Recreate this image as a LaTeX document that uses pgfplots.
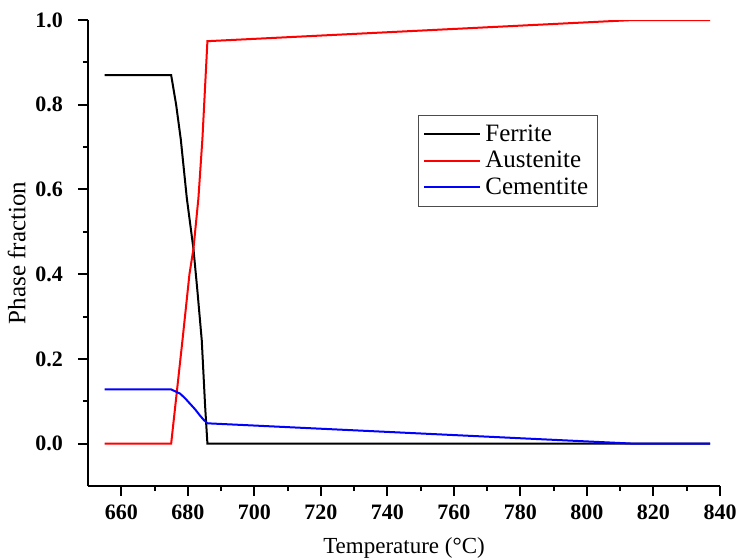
\documentclass[border=0pt]{standalone}
\usepackage{pgfplots}
\pgfplotsset{compat=1.18}
\usepackage{fontspec}
\setmainfont{Liberation Serif}
\begin{document}
\begin{tikzpicture}
\begin{axis}[
  scale only axis,
  width=316pt, height=233pt,
  xmin=650, xmax=840, ymin=-0.1, ymax=1.0,
  axis x line*=bottom, axis y line*=left,
  axis line style={-, line width=1pt},
  xtick={660,680,...,840},
  minor x tick num=1,
  ytick={0,0.2,...,1.0},
  minor y tick num=1,
  tick align=outside,
  major tick length=5pt, minor tick length=2.5pt,
  every tick/.style={black, line width=1pt},
  tick style={line width=1pt, black},
  /pgf/number format/assume math mode=true,
  ticklabel style={font=\fontsize{11}{12}\selectfont\bfseries},
  yticklabel style={xshift=-4pt, /pgf/number format/.cd, fixed, fixed zerofill, precision=1},
  xticklabel style={yshift=-1pt, /pgf/number format/.cd, set thousands separator={}},
  xlabel={Temperature (°C)},
  ylabel={Phase fraction},
  xlabel style={font=\fontsize{11.5}{13}\selectfont, yshift=-2pt},
  ylabel style={font=\fontsize{12.5}{14}\selectfont, yshift=-2pt},
  legend style={at={(0.522,0.796)}, anchor=north west, draw=black!70, line width=0.5pt,
    font=\fontsize{12.5}{13}\selectfont, row sep=-0.5pt, inner sep=2.5pt},
  legend cell align=left,
  legend image code/.code={\draw[#1, line width=1pt] (0pt,0pt) -- (28pt,0pt);},
]
\addplot[black, line width=1pt] coordinates {
 (655,0.87) (675,0.87) (676.5,0.80) (677.9,0.718) (679.7,0.58) (681.7,0.46)
 (682.9,0.36) (684.2,0.244) (685.2,0.09) (685.9,0) (837,0)};
\addlegendentry{Ferrite}
\addplot[red, line width=1pt] coordinates {
 (655,0) (675,0) (676.2,0.086) (678.4,0.244) (680.5,0.40) (681.7,0.46) (683.2,0.58) (684.4,0.72) (685.9,0.95)
 (814,1.0) (837,1.0)};
\addlegendentry{Austenite}
\addplot[blue, line width=1pt] coordinates {
 (655,0.128) (675,0.128) (677.7,0.118) (679.2,0.107) (680.7,0.094) (682.2,0.081) (683.7,0.066) (684.8,0.056) (685.9,0.048)
 (814,0) (837,0)};
\addlegendentry{Cementite}
\end{axis}
\pgfresetboundingbox
\path[use as bounding box] ([xshift=-44pt,yshift=-36pt]current axis.south west) rectangle ([xshift=9pt,yshift=10pt]current axis.north east);
\end{tikzpicture}
\end{document}
